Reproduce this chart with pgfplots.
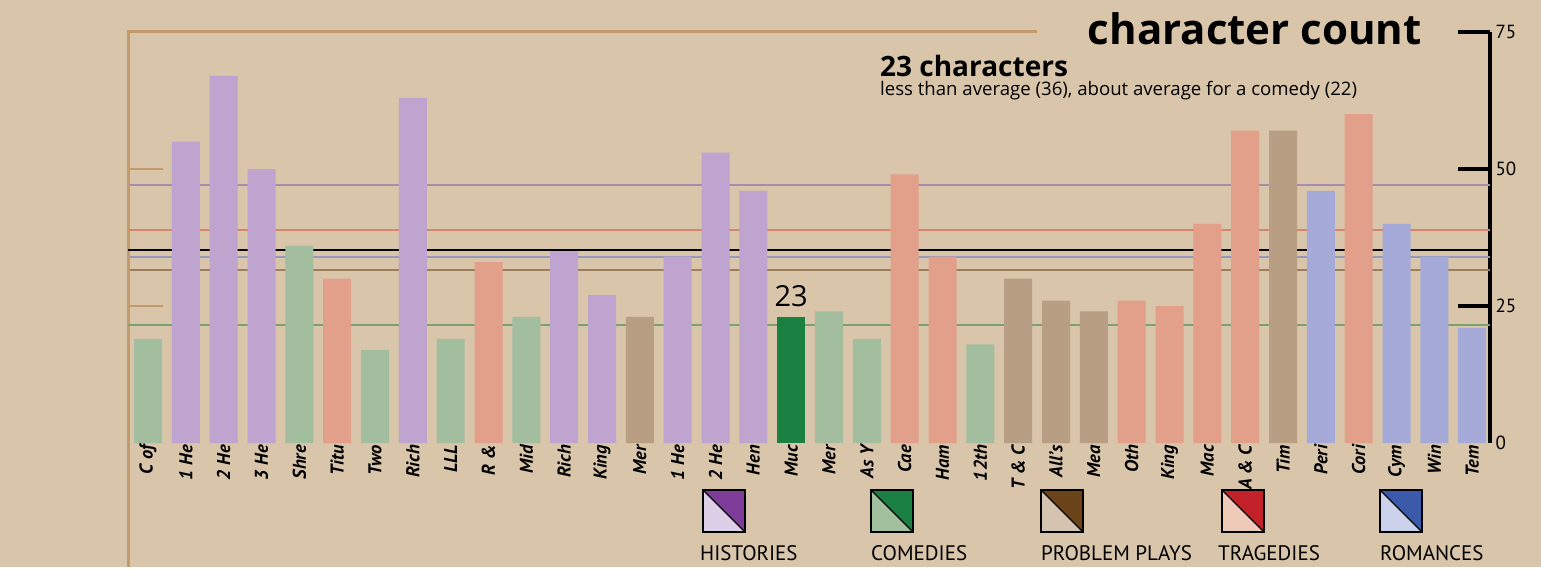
\documentclass[border=0pt]{standalone}
\usepackage{pgfplots}
\pgfplotsset{compat=1.18}
\usepackage{fontspec}
\setmainfont{PT Sans}
\newfontfamily\titlefont{Open Sans}
\definecolor{bg}{HTML}{D8C5AA}
\definecolor{tan}{HTML}{C39A6B}
\definecolor{histBar}{HTML}{BFA4CF}
\definecolor{comBar}{HTML}{A3BE9E}
\definecolor{probBar}{HTML}{B89E82}
\definecolor{tragBar}{HTML}{E2A08A}
\definecolor{romBar}{HTML}{A6AAD8}
\definecolor{hiBar}{HTML}{1A8143}
\definecolor{histLine}{HTML}{A88BAF}
\definecolor{tragLine}{HTML}{D8836E}
\definecolor{romLine}{HTML}{9898BA}
\definecolor{probLine}{HTML}{9C7E5E}
\definecolor{comLine}{HTML}{7DA06F}
\definecolor{histL}{HTML}{DCCFE7}\definecolor{histD}{HTML}{7E3D98}
\definecolor{comL}{HTML}{A3C09E}\definecolor{comD}{HTML}{1A8142}
\definecolor{probL}{HTML}{D3C3AF}\definecolor{probD}{HTML}{6B4419}
\definecolor{tragL}{HTML}{EECAB9}\definecolor{tragD}{HTML}{C4222B}
\definecolor{romL}{HTML}{CCD1EB}\definecolor{romD}{HTML}{3B5BAA}
\begin{document}
\begin{tikzpicture}[x=1pt,y=1pt]
\fill[bg] (0,0) rectangle (1541,567);
% frame
\draw[tan, line width=3pt] (128,0) -- (128,535) -- (1037,535);
\draw[tan, line width=1.5pt] (130,398) -- (163,398);
\draw[tan, line width=1.5pt] (130,261) -- (163,261);
\begin{axis}[
  at={(128pt,124pt)}, anchor=south west,
  scale only axis, width=1362pt, height=411pt,
  xmin=-0.529, xmax=35.47, ymin=0, ymax=75,
  axis y line*=right, axis x line*=bottom,
  x axis line style={draw=none},
  y axis line style={line width=4pt, black},
  bar width=28pt,
  xtick={0,...,35},
  xticklabels={C of, 1 He, 2 He, 3 He, Shre, Titu, Two, Rich, LLL, R \&, Mid, Rich, King, Mer, 1 He, 2 He, Hen, Muc, Mer, As Y, Cae, Ham, 12th, T \& C, All's, Mea, Oth, King, Mac, A \& C, Tim, Peri, Cori, Cym, Win, Tem},
  xtick style={draw=none},
  xticklabel style={rotate=90, anchor=east, font=\fontsize{18.5}{20}\selectfont\bfseries\itshape, inner sep=2pt},
  ytick={25,50,75},
  extra y ticks={0},
  extra y tick style={major tick length=0pt},
  tick align=inside,
  major tick length=32pt,
  ytick style={line width=4pt, black},
  yticklabel style={font=\fontsize{19}{20}\selectfont, anchor=west, xshift=2pt},
  /pgf/number format/assume math mode=true,
]
% mean lines (behind bars)
\addplot[histLine, line width=1.6pt] coordinates {(-0.48,47.1) (35.47,47.1)};
\addplot[tragLine, line width=1.6pt] coordinates {(-0.48,38.9) (35.47,38.9)};
\addplot[black, line width=2pt] coordinates {(-0.57,35.2) (35.47,35.2)};
\addplot[romLine, line width=1.6pt] coordinates {(-0.48,33.9) (35.47,33.9)};
\addplot[probLine, line width=1.6pt] coordinates {(-0.48,31.6) (35.47,31.6)};
\addplot[comLine, line width=1.6pt] coordinates {(-0.57,21.5) (35.47,21.5)};
% bars
\addplot[ybar, bar shift=0pt, fill=histBar, draw=none] coordinates {(1,55) (2,67) (3,50) (7,63) (11,35) (12,27) (14,34) (15,53) (16,46)};
\addplot[ybar, bar shift=0pt, fill=comBar, draw=none] coordinates {(0,19) (4,36) (6,17) (8,19) (10,23) (18,24) (19,19) (22,18)};
\addplot[ybar, bar shift=0pt, fill=probBar, draw=none] coordinates {(13,23) (23,30) (24,26) (25,24) (30,57)};
\addplot[ybar, bar shift=0pt, fill=tragBar, draw=none] coordinates {(5,30) (9,33) (20,49) (21,34) (26,26) (27,25) (28,40) (29,57) (32,60)};
\addplot[ybar, bar shift=0pt, fill=romBar, draw=none] coordinates {(31,46) (33,40) (34,34) (35,21)};
\addplot[ybar, bar shift=0pt, fill=hiBar, draw=none] coordinates {(17,23)};
\node[anchor=base, font=\titlefont\fontsize{29}{32}\selectfont] at (axis cs:17,23) [yshift=10pt] {23};
\end{axis}
% titles
\node[anchor=base east, font=\titlefont\fontsize{42}{46}\selectfont\bfseries, inner sep=0pt] at (1422,522) {character count};
\node[anchor=base west, font=\titlefont\fontsize{28}{30}\selectfont\bfseries, inner sep=0pt] at (880,490) {23 characters};
\node[anchor=base west, font=\titlefont\fontsize{18.6}{20}\selectfont, inner sep=0pt] at (880,471) {less than average (36), about average for a comedy (22)};
% legend
\foreach \x/\l/\d/\t/\tx in {703/histL/histD/HISTORIES/700, 871/comL/comD/COMEDIES/871, 1041/probL/probD/PROBLEM PLAYS/1041, 1222/tragL/tragD/TRAGEDIES/1218, 1380/romL/romD/ROMANCES/1380} {
  \fill[\l] (\x,35) -- (\x,77) -- (\x+42,35) -- cycle;
  \fill[\d] (\x,77) -- (\x+42,77) -- (\x+42,35) -- cycle;
  \draw[black, line width=1.2pt] (\x,35) rectangle (\x+42,77);
  \draw[black, line width=1.2pt] (\x,77) -- (\x+42,35);
  \node[anchor=base west, font=\fontsize{21}{22}\selectfont, inner sep=0pt] at (\tx,7) {\t};
}
\end{tikzpicture}
\end{document}
